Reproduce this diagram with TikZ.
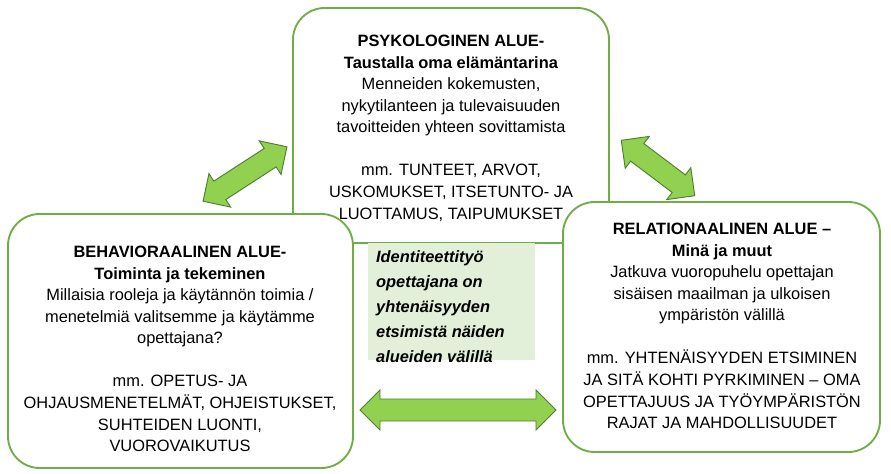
\documentclass[tikz,border=0pt]{standalone}
\usepackage{fontspec}
\setmainfont{Liberation Sans}
\definecolor{gborder}{HTML}{70AD47}
\definecolor{gfill}{HTML}{E2F0D9}
\definecolor{afill}{HTML}{92D050}
\definecolor{aline}{HTML}{507E32}
\begin{document}
\begin{tikzpicture}[x=0.03cm,y=-0.03cm,
  area/.style={draw=gborder,line width=1.6pt,fill=white,rounded corners=0.95cm},
  txt/.style={align=center,font=\fontsize{14}{18.4}\selectfont,anchor=north},
  dbl/.style={draw=aline,fill=afill,line width=0.8pt,line join=miter},
  pics/darrow/.style={code={
    \path[dbl] (-#1,0) -- (-#1+20,-20) -- (-#1+20,-11) -- (#1-20,-11) -- (#1-20,-20) -- (#1,0)
      -- (#1-20,20) -- (#1-20,11) -- (-#1+20,11) -- (-#1+20,20) -- cycle;}}]
\useasboundingbox (0,0) rectangle (891,474);
\draw[area] (293,8) rectangle (609,243);
\node[txt] (top) at (451,31) {\textbf{PSYKOLOGINEN ALUE-}\\\textbf{Taustalla oma elämäntarina}\\Menneiden kokemusten,\\nykytilanteen ja tulevaisuuden\\tavoitteiden yhteen sovittamista\\[18.4pt]mm. TUNTEET, ARVOT,\\USKOMUKSET, ITSETUNTO- JA\\LUOTTAMUS, TAIPUMUKSET};
\draw[area] (8,214) rectangle (353,468);
\node[txt] (left) at (180,242) {\textbf{BEHAVIORAALINEN ALUE-}\\\textbf{Toiminta ja tekeminen}\\Millaisia rooleja ja käytännön toimia /\\menetelmiä valitsemme ja käytämme\\opettajana?\\[18.4pt]mm. OPETUS- JA\\OHJAUSMENETELMÄT, OHJEISTUKSET,\\SUHTEIDEN LUONTI,\\VUOROVAIKUTUS};
\draw[area] (563,202) rectangle (880,452);
\node[txt] (right) at (722,219) {\textbf{RELATIONAALINEN ALUE –}\\\textbf{Minä ja muut}\\Jatkuva vuoropuhelu opettajan\\sisäisen maailman ja ulkoisen\\ympäristön välillä\\[18.4pt]mm. YHTENÄISYYDEN ETSIMINEN\\JA SITÄ KOHTI PYRKIMINEN – OMA\\OPETTAJUUS JA TYÖYMPÄRISTÖN\\RAJAT JA MAHDOLLISUUDET};
\fill[gfill] (368,243) rectangle (535,360);
\node[anchor=north west,align=left,font=\fontsize{14}{21.5}\selectfont\bfseries\itshape] (mid) at (372,246) {Identiteettityö\\opettajana on\\yhtenäisyyden\\etsimistä näiden\\alueiden välillä};
\pic[rotate=33] at (245,174) {darrow=50};
\pic[rotate=-37] at (658,168) {darrow=46};
\pic at (458,410) {darrow=98};
\end{tikzpicture}
\end{document}
